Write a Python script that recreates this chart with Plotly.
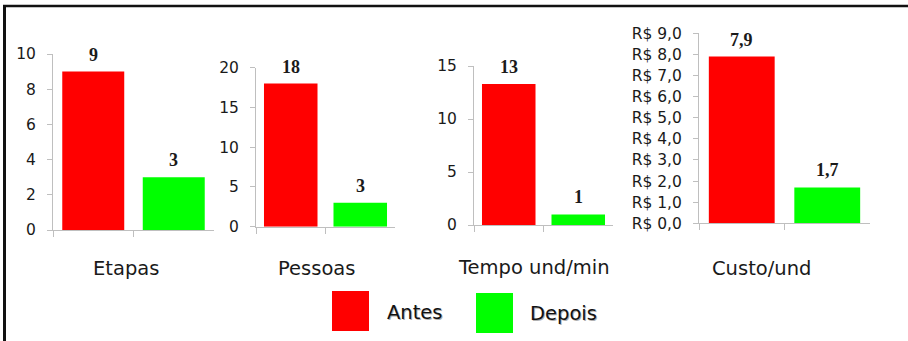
import plotly.graph_objects as go

W, H = 908, 341

series_names = ["Antes", "Depois"]
series_colors = ["#ff0000", "#00ff00"]

panel_titles = ["Etapas", "Pessoas", "Tempo und/min", "Custo/und"]
antes_values = [9, 18, 13.3, 7.9]
depois_values = [3, 3, 1, 1.7]
antes_labels = ["9", "18", "13", "7,9"]
depois_labels = ["3", "3", "1", "1,7"]

y_ranges = [[0, 10], [0, 20], [0, 15], [0, 9]]
y_tickvals = [
    [0, 2, 4, 6, 8, 10],
    [0, 5, 10, 15, 20],
    [0, 5, 10, 15],
    [0, 1, 2, 3, 4, 5, 6, 7, 8, 9],
]
y_ticktext = [
    ["0", "2", "4", "6", "8", "10"],
    ["0", "5", "10", "15", "20"],
    ["0", "5", "10", "15"],
    ["R$ 0,0", "R$ 1,0", "R$ 2,0", "R$ 3,0", "R$ 4,0", "R$ 5,0",
     "R$ 6,0", "R$ 7,0", "R$ 8,0", "R$ 9,0"],
]

# pixel geometry of each panel: (x_left, x_right, y_zero, y_top)
panels_px = [
    (53, 214, 230, 54),
    (256, 395, 226.7, 67.7),
    (474, 613, 225, 66),
    (699, 870, 223.3, 33.3),
]
title_pos_px = [(126, 268), (316, 268), (534, 267), (761, 268)]

def px_x(x):
    return x / W

def px_y(y):
    return 1 - y / H

fig = go.Figure()
annotations = []
AX = "#bfbfbf"
TXT = "#1a1a1a"

for i in range(4):
    n = "" if i == 0 else str(i + 1)
    xa, ya = "x" + n, "y" + n
    for s, vals in enumerate([antes_values, depois_values]):
        fig.add_trace(go.Bar(
            x=[s], y=[vals[i]], width=0.77, name=series_names[s],
            marker=dict(color=series_colors[s], line=dict(width=0)),
            xaxis=xa, yaxis=ya, showlegend=False,
        ))
    for s, (vals, labs) in enumerate([(antes_values, antes_labels), (depois_values, depois_labels)]):
        annotations.append(dict(
            x=s, y=vals[i], xref=xa, yref=ya, text=labs[i], showarrow=False,
            yshift=17, yanchor="middle", xanchor="center",
            font=dict(family="Liberation Serif", size=18, color=TXT, weight="bold"),
        ))
    xl, xr, y0, yt = panels_px[i]
    fig.update_layout(**{
        "xaxis" + n: dict(
            domain=[px_x(xl), px_x(xr)], range=[-0.5, 1.5], anchor=ya,
            showline=True, linecolor=AX, linewidth=1, showgrid=False, zeroline=False,
            tickmode="array", tickvals=[-0.5, 0.5], ticktext=["", ""],
            ticks="outside", ticklen=6, tickcolor=AX, tickwidth=1,
            automargin=False,
        ),
        "yaxis" + n: dict(
            domain=[px_y(y0), px_y(yt)], range=y_ranges[i], anchor=xa,
            showline=True, linecolor=AX, linewidth=1, showgrid=False, zeroline=False,
            tickmode="array", tickvals=y_tickvals[i], ticktext=y_ticktext[i],
            ticks="outside", ticklen=5, tickcolor=AX, tickwidth=1,
            ticklabelstandoff=8, automargin=False,
            tickfont=dict(family="DejaVu Sans", size=15.5, color=TXT),
        ),
    })
    tx, ty = title_pos_px[i]
    annotations.append(dict(
        x=px_x(tx), y=px_y(ty), xref="paper", yref="paper", text=panel_titles[i],
        showarrow=False, xanchor="center", yanchor="middle",
        font=dict(family="DejaVu Sans", size=19.5, color=TXT),
    ))

# legend drawn as large squares with text
legend_boxes_px = [(332, 291, 369, 331), (476, 293, 513, 333)]
legend_text_px = [(385, 312), (528, 313)]
shapes = []
for s in range(2):
    x0, y0, x1, y1 = legend_boxes_px[s]
    shapes.append(dict(type="rect", xref="paper", yref="paper",
                       x0=px_x(x0), x1=px_x(x1), y0=px_y(y1), y1=px_y(y0),
                       fillcolor=series_colors[s], line=dict(width=0)))
    tx, ty = legend_text_px[s]
    annotations.append(dict(
        x=px_x(tx + 1), y=px_y(ty + 1), xref="paper", yref="paper", text=series_names[s],
        showarrow=False, xanchor="left", yanchor="middle",
        font=dict(family="DejaVu Sans", size=19.5, color="#b0b0b0"),
    ))
    annotations.append(dict(
        x=px_x(tx), y=px_y(ty), xref="paper", yref="paper", text=series_names[s],
        showarrow=False, xanchor="left", yanchor="middle",
        font=dict(family="DejaVu Sans", size=19.5, color="#111111"),
    ))

# frame: left and top border
shapes.append(dict(type="line", xref="paper", yref="paper",
                   x0=px_x(4.5), x1=px_x(4.5), y0=0, y1=px_y(5),
                   line=dict(color="#111111", width=3)))
shapes.append(dict(type="line", xref="paper", yref="paper",
                   x0=px_x(3), x1=1, y0=px_y(6), y1=px_y(6),
                   line=dict(color="#111111", width=2.5)))

fig.update_layout(
    width=W, height=H,
    margin=dict(l=0, r=0, t=0, b=0, pad=0, autoexpand=False),
    paper_bgcolor="white", plot_bgcolor="white",
    annotations=annotations, shapes=shapes, showlegend=False,
    barmode="overlay",
)

fig.write_html("out.html", config={"displayModeBar": False})
